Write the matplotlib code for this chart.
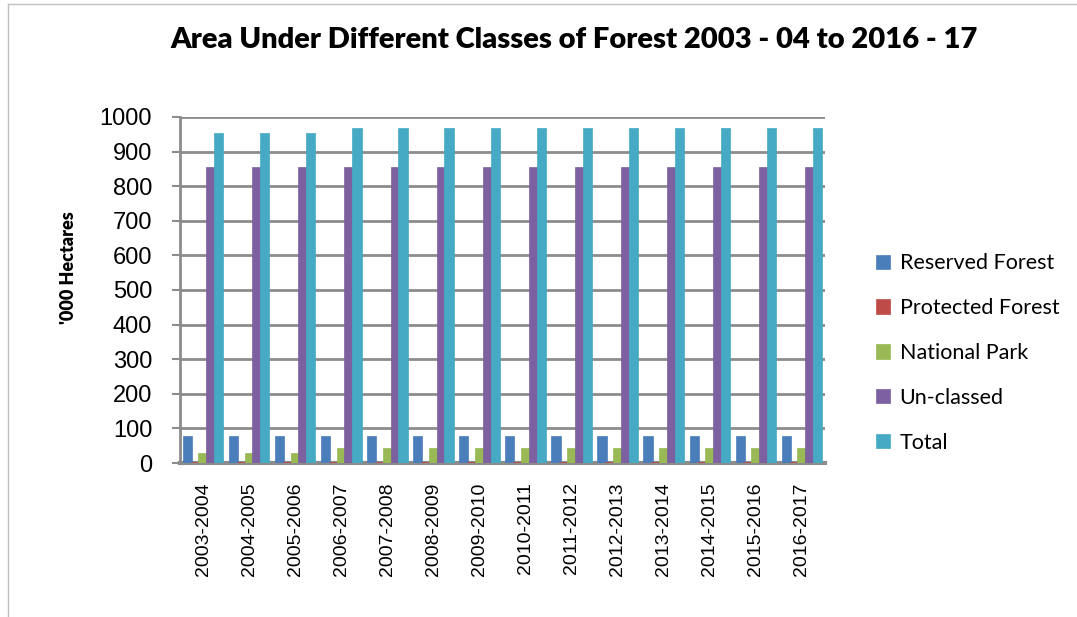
import matplotlib
matplotlib.use("Agg")
import matplotlib.pyplot as plt
import numpy as np

years = ["2003-2004", "2004-2005", "2005-2006", "2006-2007", "2007-2008", "2008-2009",
         "2009-2010", "2010-2011", "2011-2012", "2012-2013", "2013-2014", "2014-2015",
         "2015-2016", "2016-2017"]
reserved = [78, 78, 78, 78, 78, 78, 78, 78, 78, 78, 78, 78, 78, 78]
protected = [4, 4, 4, 4, 4, 4, 4, 4, 4, 4, 4, 4, 4, 4]
national_park = [30, 30, 30, 43, 43, 43, 43, 43, 43, 43, 43, 43, 43, 43]
unclassed = [855, 855, 855, 855, 855, 855, 855, 855, 855, 855, 855, 855, 855, 855]
total = [955, 955, 955, 968, 968, 968, 968, 968, 968, 968, 968, 968, 968, 968]

series = [("Reserved Forest", reserved, "#4a7ebb"),
          ("Protected Forest", protected, "#be4b48"),
          ("National Park", national_park, "#98b954"),
          ("Un-classed", unclassed, "#7d60a0"),
          ("Total", total, "#46aac5")]

fig = plt.figure(figsize=(10.77, 6.17), dpi=100)
ax = fig.add_axes([180/1077, 1-463/617, (825-180)/1077, (463-117)/617])

x = np.arange(len(years))
w = 0.2
step = 0.17
for i, (name, vals, col) in enumerate(series):
    ax.bar(x + (i - 2) * step, vals, width=w, color=col, edgecolor=col,
           linewidth=0.5, label=name, zorder=3)

ax.set_xlim(-0.5, len(years) - 0.5)
ax.set_ylim(0, 1000)
ax.set_yticks(range(0, 1001, 100))
ax.yaxis.grid(True, color="#8c8c8c", linewidth=2, zorder=0)
ax.set_axisbelow(True)
for s in ["top", "right"]:
    ax.spines[s].set_visible(False)
ax.spines["left"].set_color("#8c8c8c")
ax.spines["left"].set_linewidth(2)
ax.spines["bottom"].set_color("#8c8c8c")
ax.spines["bottom"].set_linewidth(3)
ax.tick_params(axis="y", length=6, width=1.5, color="#8c8c8c", labelsize=17, pad=14)
ax.tick_params(axis="x", length=0, labelsize=14, pad=14)
ax.set_xticks(x)
ax.set_xticklabels(years, rotation=90, family="Liberation Sans")
for lab in ax.get_yticklabels():
    lab.set_family("Liberation Sans")

fig.text(68/1077, 1-268/617, "'000 Hectares", rotation=90, ha="center", va="center",
         fontsize=13, fontweight="heavy", family="Lato")

fig.text(0.533, 1-40/617, "Area Under Different Classes of Forest 2003 - 04 to 2016 - 17",
         ha="center", va="center", fontsize=21, fontweight="heavy", family="Lato")

leg = fig.legend(loc="center left", bbox_to_anchor=(876/1077, 1-353/617), frameon=False,
                 handlelength=0.65, handleheight=0.65, labelspacing=1.15,
                 handletextpad=0.45, borderaxespad=0, borderpad=0,
                 prop={"family": "Lato", "size": 15.5})

# frame lines of the chart area
fig.add_artist(plt.Line2D([8/1077, 8/1077], [0, 1-4/617], color="#bfbfbf", linewidth=1))
fig.add_artist(plt.Line2D([8/1077, 1], [1-4/617, 1-4/617], color="#bfbfbf", linewidth=1))

fig.savefig("out.png", dpi=100, facecolor="white")
